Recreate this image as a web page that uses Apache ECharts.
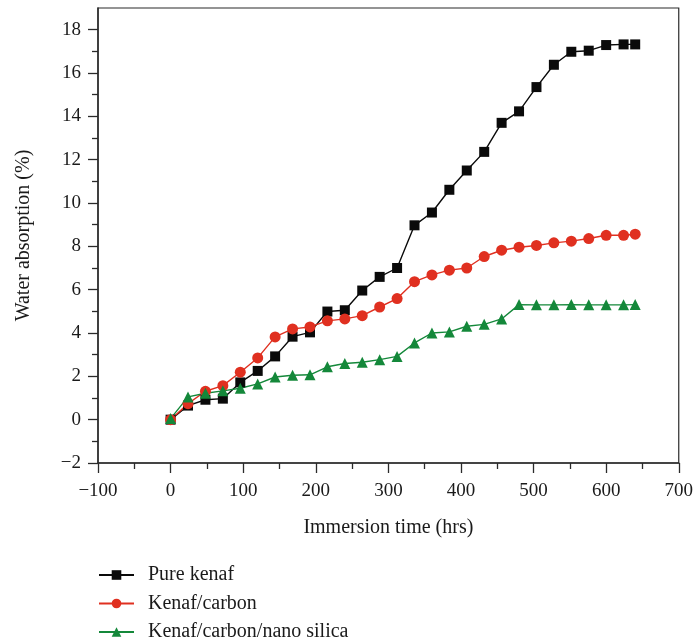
<!DOCTYPE html>
<html><head><meta charset="utf-8">
<script src="https://cdn.jsdelivr.net/npm/echarts@6/dist/echarts.min.js"></script>
<style>html,body{margin:0;padding:0;background:#fff}#c{width:696px;height:640px}</style>
</head><body><div id="c"></div>
<script>
const hours = [0,24,48,72,96,120,144,168,192,216,240,264,288,312,336,360,384,408,432,456,480,504,528,552,576,600,624,640];
const pureKenaf = [0,0.65,0.92,0.97,1.72,2.25,2.92,3.83,4.03,4.99,5.05,5.96,6.59,7.0,8.97,9.56,10.61,11.5,12.36,13.7,14.23,15.35,16.38,16.98,17.03,17.29,17.32,17.32];
const kenafCarbon = [0,0.74,1.31,1.57,2.19,2.85,3.82,4.19,4.28,4.56,4.65,4.8,5.2,5.59,6.37,6.68,6.9,7.0,7.53,7.82,7.96,8.04,8.16,8.24,8.36,8.51,8.51,8.56];
const kenafCarbonSilica = [0.05,1.05,1.22,1.33,1.45,1.65,1.97,2.05,2.07,2.44,2.59,2.65,2.77,2.92,3.54,4.0,4.05,4.31,4.4,4.65,5.31,5.3,5.3,5.31,5.3,5.3,5.3,5.31];
const yMajorTicks = [-2,0,2,4,6,8,10,12,14,16,18];
const yMinorTicks = [-1,1,3,5,7,9,11,13,15,17];
const seriesNames = ['Pure kenaf','Kenaf/carbon','Kenaf/carbon/nano silica'];
const xTitle = 'Immersion time (hrs)';
const yTitle = 'Water absorption (%)';

const FONT = '"Liberation Serif","Times New Roman",serif';
const AX = '#2b2b2b';
const fmt = v => v<0 ? '\u2212'+Math.abs(v) : String(v);
const pair = arr => hours.map((h,i)=>[h,arr[i]]);
const chart = echarts.init(document.getElementById('c'), null, {renderer:'canvas'});
const mk = (name, data, color, symbol, size) => ({
  name, type:'line', data: pair(data), symbol, symbolSize:size, yAxisIndex:0,
  lineStyle:{color, width:1.4}, itemStyle:{color, opacity:1},
  emphasis:{disabled:true}, animation:false
});
chart.setOption({
  animation:false,
  grid:{left:98, right:16, top:8, bottom:177, show:true, borderColor:AX, borderWidth:1.2, containLabel:false},
  xAxis:{
    type:'value', min:-100, max:700, interval:100,
    name:xTitle, nameLocation:'middle', nameGap:55,
    nameTextStyle:{fontFamily:FONT, fontSize:20, color:'#1a1a1a'},
    axisLine:{show:true, onZero:false, lineStyle:{color:AX, width:1.5}},
    axisTick:{show:true, inside:false, length:10, lineStyle:{color:AX, width:1.3}},
    minorTick:{show:true, splitNumber:2, length:6, lineStyle:{color:AX, width:1.3}},
    splitLine:{show:false},
    axisLabel:{fontFamily:FONT, fontSize:19, color:'#1a1a1a', margin:19, formatter:fmt}
  },
  yAxis:[{
    type:'value', min:-2, max:19, interval:2,
    name:yTitle, nameLocation:'middle', nameGap:64,
    nameTextStyle:{fontFamily:FONT, fontSize:20, color:'#1a1a1a'},
    axisLine:{show:true, onZero:false, lineStyle:{color:AX, width:1.5}},
    axisTick:{show:true, inside:false, length:10, customValues:yMajorTicks, lineStyle:{color:AX, width:1.3}},
    minorTick:{show:false},
    splitLine:{show:false},
    axisLabel:{fontFamily:FONT, fontSize:19, color:'#1a1a1a', margin:17, customValues:yMajorTicks, formatter:fmt}
  },{
    type:'value', min:-2, max:19, position:'left',
    axisLine:{show:false, onZero:false},
    axisTick:{show:true, inside:false, length:6, customValues:yMinorTicks, lineStyle:{color:AX, width:1.3}},
    axisLabel:{show:false},
    splitLine:{show:false}
  }],
  legend:{
    orient:'vertical', left:98, top:565, height:90, padding:0, itemWidth:35, itemHeight:12, itemGap:8.5,
    selectedMode:false,
    textStyle:{fontFamily:FONT, fontSize:20, color:'#1a1a1a', padding:[0,0,0,9]},
    data:seriesNames
  },
  series:[
    mk(seriesNames[0], pureKenaf, '#0a0a0a', 'rect', 10),
    mk(seriesNames[1], kenafCarbon, '#e03020', 'circle', 11),
    mk(seriesNames[2], kenafCarbonSilica, '#14883a', 'triangle', 11)
  ]
});
</script></body></html>
